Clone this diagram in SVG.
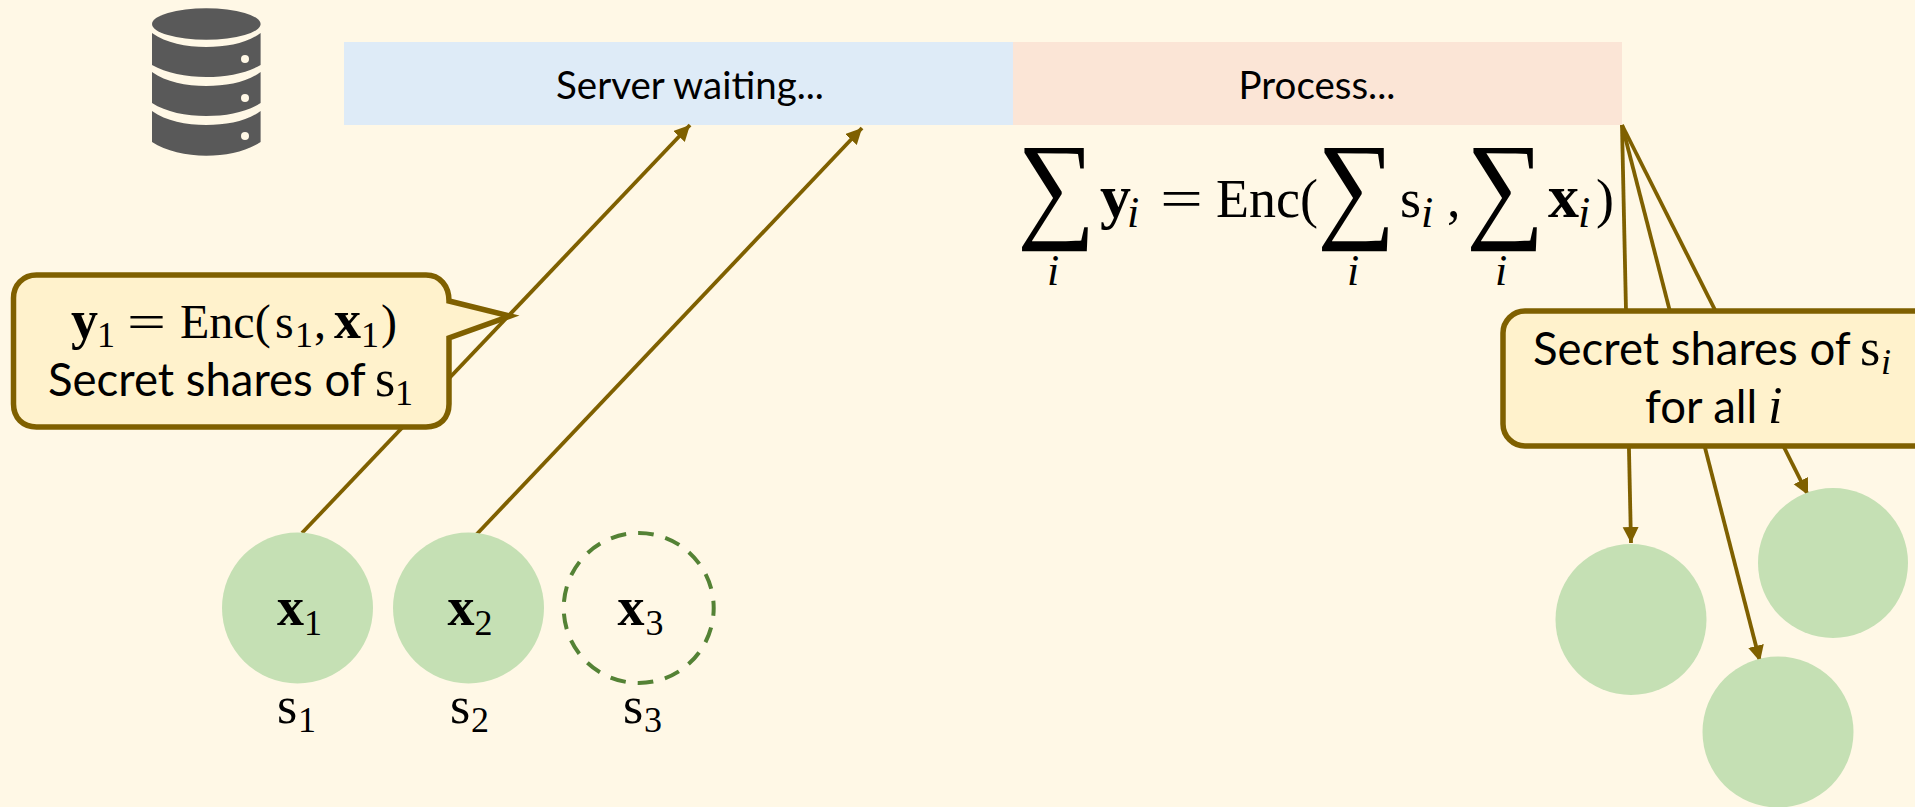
<svg xmlns="http://www.w3.org/2000/svg" width="1915" height="807" viewBox="0 0 1915 807">
<style>
.sans{font-family:"Lato","Open Sans","Liberation Sans",sans-serif;fill:#000}
.m{font-family:"Liberation Serif","DejaVu Serif",serif;fill:#000}
.b{font-weight:700}
.it{font-style:italic}
.t38{font-size:38.500px}
.t45{font-size:45.500px}
.m48{font-size:48px}
.m52{font-size:52px}
.m54{font-size:54px}
.m62{font-size:62px}
.s36{font-size:36px}
.s44{font-size:44px}
.call{fill:#FFF2CC;stroke:#7F6000;stroke-width:5.500;stroke-linejoin:miter}
.conn{stroke:#7F6000;stroke-width:3.800;fill:none}
.circ{fill:#C5E0B4}
.sig{font-family:"Liberation Serif","DejaVu Serif",serif;font-size:110px;fill:#000}
</style>
<defs>
<marker id="ah" markerUnits="userSpaceOnUse" markerWidth="17" markerHeight="17" refX="16" refY="8" orient="auto"><path d="M0,0L16,8L0,16z" fill="#7F6000"/></marker>
</defs>
<rect width="1915" height="807" fill="#FFF8E6"/>
<g id="server-icon" fill="#595959">
<ellipse cx="206.3" cy="24" rx="54.3" ry="15.7"/>
<path d="M152,33C166,43 186,47 206.300,47C227,47 247,43 260.600,33V65C247,73 227,77 206.300,77C186,77 166,73 152,65z"/>
<path d="M152,72C166,82 186,86 206.300,86C227,86 247,82 260.600,72V103C247,112 227,116 206.300,116C186,116 166,112 152,103z"/>
<path d="M152,111C166,121 186,125 206.300,125C227,125 247,121 260.600,111V142C247,151 227,155.700 206.300,155.700C186,155.700 166,151 152,142z"/>
<g fill="#FFF8E6"><circle cx="245" cy="59" r="4"/><circle cx="245" cy="98" r="4"/><circle cx="245" cy="136" r="4"/></g>
</g>
<g id="waiting"><rect x="344" y="42" width="669" height="83" fill="#DEEBF7"/>
<text class="sans t38" x="690" y="99" text-anchor="middle">Server waiting...</text></g>
<g id="process"><rect x="1013" y="42" width="609" height="83" fill="#FBE5D6"/>
<text class="sans t38" x="1317" y="99" text-anchor="middle">Process...</text></g>
<g id="connectors">
<line class="conn" x1="302" y1="533" x2="690" y2="125" marker-end="url(#ah)"/>
<line class="conn" x1="475.500" y1="535.500" x2="862" y2="128" marker-end="url(#ah)"/>
<line class="conn" x1="1622" y1="125" x2="1631" y2="543" marker-end="url(#ah)"/>
<line class="conn" x1="1622" y1="125" x2="1760" y2="661.500" marker-end="url(#ah)"/>
<line class="conn" x1="1622" y1="125" x2="1808" y2="495" marker-end="url(#ah)"/>
</g>
<g id="equation">
<text class="sig" transform="translate(1017 226) scale(1 1.08)">∑</text>
<text class="m s44 it" x="1047" y="285">i</text>
<text class="m m62 b" x="1100" y="217">y</text>
<text class="m s44 it" x="1127" y="227">i</text>
<text class="m m54" x="1160" y="217" textLength="43" lengthAdjust="spacingAndGlyphs">=</text>
<text class="m m54" x="1216" y="217">Enc(</text>
<text class="sig" transform="translate(1317 226) scale(1 1.08)">∑</text>
<text class="m s44 it" x="1347" y="285">i</text>
<text class="m m54" x="1400" y="217">s</text>
<text class="m s44 it" x="1421" y="227">i</text>
<text class="m m54" x="1447" y="217">,</text>
<text class="sig" transform="translate(1466 226) scale(1 1.08)">∑</text>
<text class="m s44 it" x="1495" y="285">i</text>
<text class="m m62 b" x="1548" y="217">x</text>
<text class="m s44 it" x="1578" y="227">i</text>
<text class="m m54" x="1596" y="217">)</text>
</g>
<g id="callout-client">
<path class="call" d="M36.500,275H426C440,275 449,286 449,301L510,316L449,338V404C449,418 440,427 426,427H36.500C23,427 13.500,418 13.500,404V298C13.500,285 23,275 36.500,275z"/>
<text class="m m54 b" x="71" y="338">y</text><text class="m s36" x="97" y="347">1</text>
<text class="m m48" x="127" y="338" textLength="39" lengthAdjust="spacingAndGlyphs">=</text>
<text class="m m48" x="180" y="338">Enc(</text><text class="m m48" x="275" y="338">s</text><text class="m s36" x="295" y="347">1</text>
<text class="m m48" x="314" y="338">,</text>
<text class="m m54 b" x="334" y="338">x</text><text class="m s36" x="361" y="347">1</text>
<text class="m m48" x="381" y="338">)</text>
<text class="sans t45" x="48" y="396">Secret shares of</text>
<text class="m m52" x="375" y="396">s</text><text class="m s36" x="395" y="405">1</text>
</g>
<g id="callout-server">
<rect class="call" x="1503" y="311" width="440" height="135" rx="22"/>
<text class="sans t45" x="1533" y="365">Secret shares of</text>
<text class="m m52" x="1860" y="365">s</text><text class="m s36 it" x="1881" y="374">i</text>
<text class="sans t45" x="1645" y="423">for all</text>
<text class="m m52 it" x="1768" y="423">i</text>
</g>
<g id="client-1"><circle class="circ" cx="297.500" cy="608" r="75.500"/>
<text class="m m54 b" x="277" y="625">x</text><text class="m s36" x="304" y="635">1</text>
<text class="m m52" x="277" y="723">s</text><text class="m s36" x="298" y="732">1</text></g>
<g id="client-2"><circle class="circ" cx="468.500" cy="608" r="75.500"/>
<text class="m m54 b" x="447.500" y="625">x</text><text class="m s36" x="474.500" y="635">2</text>
<text class="m m52" x="450" y="723">s</text><text class="m s36" x="471" y="732">2</text></g>
<g id="client-3"><circle cx="638.700" cy="608" r="75" fill="none" stroke="#548235" stroke-width="4" stroke-dasharray="15.700 12" stroke-dashoffset="7.850"/>
<text class="m m54 b" x="617.500" y="625">x</text><text class="m s36" x="645.500" y="635">3</text>
<text class="m m52" x="623" y="723">s</text><text class="m s36" x="644" y="732">3</text></g>
<g id="share-a"><circle class="circ" cx="1631" cy="619.500" r="75.500"/></g>
<g id="share-b"><circle class="circ" cx="1833" cy="563" r="75"/></g>
<g id="share-c"><circle class="circ" cx="1778" cy="732" r="75.500"/></g>
</svg>
